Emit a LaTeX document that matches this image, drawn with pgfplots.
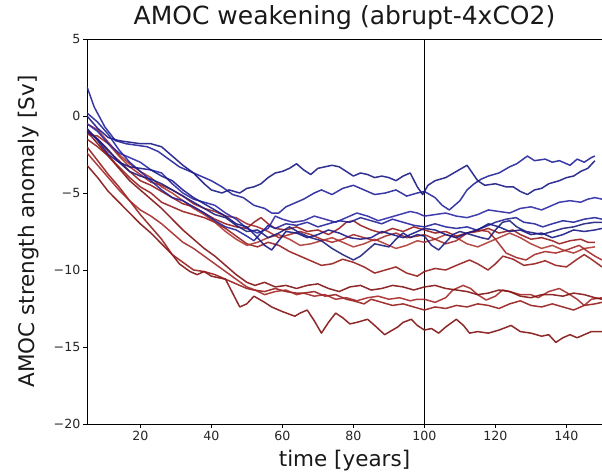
\documentclass[border=0pt]{standalone}
\usepackage{fontspec}
\setmainfont{DejaVu Sans}
\usepackage{pgfplots}
\pgfplotsset{compat=1.18}
\definecolor{bA}{RGB}{35,35,155}
\definecolor{bB}{RGB}{25,25,135}
\definecolor{bC}{RGB}{45,40,165}
\definecolor{bD}{RGB}{30,30,125}
\definecolor{rA}{RGB}{165,40,40}
\definecolor{rB}{RGB}{150,28,28}
\definecolor{rC}{RGB}{130,18,18}
\definecolor{rD}{RGB}{175,55,50}
\begin{document}
\begin{tikzpicture}
\begin{axis}[
  scale only axis, width=515bp, height=385bp,
  xmin=5, xmax=150, ymin=-20, ymax=5,
  xtick={20,40,60,80,100,120,140},
  ytick={-20,-15,-10,-5,0,5},
  yticklabels={−20,−15,−10,−5,0,5},
  tick pos=left, tick align=outside, major tick length=3.5bp,
  tick style={black, line width=0.6pt},
  tick label style={font=\fontsize{12.6bp}{15bp}\selectfont, text=black!85, inner sep=1bp},
  /pgf/number format/assume math mode=true,
  xticklabel shift=2bp, yticklabel shift=2bp,
  axis line style={line width=0.7pt},
  no markers, clip=true,
  every axis plot/.append style={line width=1.5pt, line join=round, opacity=0.9},
]
\addplot[black, line width=0.6pt, opacity=1] coordinates {(100,-20) (100,5)};
% red lines
\addplot[rC] coordinates {(5,-3.2) (8,-4.0) (11,-4.9) (14,-5.6) (17,-6.3) (20,-7.0) (23,-7.6) (26,-8.3) (29,-9.0) (31,-9.6) (34,-10.1) (36,-10.3) (38,-10.1) (40,-10.4) (42,-10.5) (44,-10.6) (46,-11.5) (48,-12.4) (50,-12.2) (52,-11.7) (55,-12.1) (57,-12.4) (60,-12.7) (63.5,-13.0) (65,-12.8) (67,-12.6) (69,-13.3) (71,-14.1) (73,-13.4) (75,-12.8) (77,-13.1) (79,-13.5) (81,-13.4) (84,-13.2) (86,-13.6) (88.8,-14.2) (91,-13.9) (92.5,-13.7) (94,-13.4) (96.3,-13.2) (98,-13.6) (100,-13.9) (102,-13.8) (104,-14.1) (106,-13.7) (109,-13.2) (111,-13.6) (112.7,-14.1) (115,-14.0) (118,-14.1) (121,-13.9) (124.4,-13.6) (127,-14.0) (130,-14.1) (133,-14.3) (135,-14.2) (137,-14.7) (139,-14.4) (141,-14.2) (143,-14.4) (145,-14.2) (147,-14.0) (150,-14.0)};
\addplot[rB] coordinates {(5,-2.0) (8,-2.9) (11,-3.8) (14,-4.6) (17,-5.5) (20,-6.4) (23,-7.2) (26,-8.0) (29,-9.0) (32,-9.5) (35,-10.0) (38,-10.1) (41,-10.3) (44,-10.6) (47,-10.9) (50,-11.2) (52,-11.3) (55,-11.4) (58,-11.2) (61,-11.4) (64,-11.5) (66,-11.5) (69,-11.4) (72,-11.7) (75,-11.6) (78,-11.9) (80,-12.0) (83,-12.2) (85,-11.9) (88,-12.1) (91,-12.3) (94,-12.2) (97,-12.4) (100,-12.6) (103,-12.4) (106,-12.5) (109,-12.3) (112,-12.4) (115,-12.2) (118,-12.3) (121,-12.5) (124,-12.2) (127,-12.0) (130,-12.3) (133,-12.4) (136,-12.2) (139,-12.4) (142,-12.6) (145,-12.3) (148,-12.2) (150,-12.1)};
\addplot[rA] coordinates {(5,-2.4) (8,-3.2) (11,-4.0) (14,-4.8) (17,-5.5) (20,-6.1) (23,-6.5) (26,-7.0) (29,-7.6) (32,-8.2) (35,-8.6) (38,-9.1) (41,-9.6) (44,-10.1) (47,-10.6) (50,-11.1) (52.3,-11.3) (55,-11.6) (58,-11.4) (61,-11.3) (64,-11.6) (66,-11.5) (69,-11.7) (72,-11.6) (75,-11.9) (78,-11.8) (81,-12.0) (84,-11.8) (87,-11.7) (90,-11.9) (93,-11.8) (96,-12.0) (98,-11.9) (100,-11.9) (103,-12.1) (106,-11.8) (108,-11.3) (110.9,-11.0) (113,-11.2) (115,-11.6) (117.4,-11.95) (120,-11.7) (122,-11.3) (124,-11.4) (127,-11.6) (130,-11.6) (132,-11.8) (135,-11.4) (138,-11.2) (141,-11.6) (143,-11.9) (145,-12.3) (147,-11.9) (150,-11.8)};
\addplot[rC] coordinates {(5,-1.0) (8,-1.8) (11,-2.6) (14,-3.4) (17,-4.2) (20,-4.8) (23,-5.4) (26,-6.0) (29,-6.7) (32,-7.4) (35,-8.0) (38,-8.6) (41,-9.1) (44,-9.7) (47,-10.3) (50,-10.8) (52.3,-11.0) (55,-10.8) (58,-11.1) (61,-11.0) (64,-11.2) (67,-11.0) (70,-10.9) (73,-11.2) (76,-11.4) (79,-11.1) (82,-11.0) (85,-11.3) (88,-11.2) (91,-11.0) (94,-11.1) (97,-11.3) (100,-11.1) (103,-11.0) (106,-11.2) (109,-11.3) (112,-11.4) (115,-11.6) (118,-11.5) (121,-11.3) (124,-11.4) (127,-11.7) (130,-11.8) (133,-11.6) (136,-11.6) (139,-11.7) (142,-11.5) (145,-11.6) (148,-11.8) (150,-11.9)};
\addplot[rB] coordinates {(5,-1.5) (8,-2.0) (11,-2.6) (14,-3.3) (17,-4.0) (20,-4.6) (23,-5.0) (26,-5.6) (29,-5.9) (32,-6.2) (35,-6.4) (38,-6.6) (41,-6.9) (44,-7.3) (47,-7.8) (50,-8.3) (53,-8.5) (56,-8.2) (59,-8.4) (62,-8.8) (65,-9.1) (68,-9.4) (71,-9.7) (74,-9.6) (77,-9.3) (80,-9.5) (83,-9.8) (86,-10.2) (89,-10.0) (92,-9.8) (95,-10.2) (98,-10.4) (100,-10.1) (103,-9.9) (106,-10.0) (109,-9.7) (112.7,-9.35) (115,-9.6) (117.9,-10.0) (120,-9.6) (122.1,-9.1) (125,-9.3) (128,-9.7) (131,-9.6) (134,-9.4) (137,-9.7) (140,-9.8) (143,-9.3) (145,-9.0) (147,-9.3) (150,-9.8)};
\addplot[rD] coordinates {(5,-0.5) (8,-0.9) (11,-1.7) (14,-2.5) (17,-3.1) (20,-3.6) (23,-4.0) (26,-4.6) (29,-5.0) (32,-5.5) (35,-6.0) (38,-6.4) (41,-6.9) (44,-7.5) (47,-8.0) (50,-8.4) (53,-8.2) (56,-7.9) (59,-7.7) (62,-8.0) (65,-8.4) (68,-8.3) (71,-8.1) (74,-7.9) (77,-8.2) (80,-8.5) (83,-8.3) (86,-8.0) (89,-8.3) (92,-8.6) (95,-8.4) (98,-8.1) (100,-8.2) (103,-8.0) (106,-7.7) (109,-7.9) (112,-8.3) (115,-8.5) (118,-8.2) (121,-7.9) (124,-7.6) (127,-7.9) (130,-8.3) (133,-8.6) (136,-8.4) (139,-8.7) (142,-8.9) (145,-8.6) (148,-8.5)};
\addplot[rA] coordinates {(5,-1.2) (8,-1.3) (11,-1.8) (14,-2.6) (17,-3.3) (20,-3.8) (23,-4.3) (26,-4.5) (29,-4.8) (32,-5.2) (35,-5.7) (38,-6.0) (41,-6.2) (44,-6.5) (47,-6.6) (50,-7.0) (53,-7.2) (56,-7.5) (59,-7.9) (62,-7.7) (65,-7.5) (68,-7.7) (71,-8.0) (74,-8.2) (77,-8.0) (80,-7.7) (83,-7.9) (86,-8.1) (89,-7.8) (92,-7.6) (95,-7.9) (98,-7.8) (100,-7.7) (103,-8.0) (106,-8.3) (109,-8.1) (112,-7.6) (115,-7.4) (118,-7.5) (120,-8.0) (123,-8.9) (126,-9.2) (128.6,-9.35) (131,-9.0) (134,-8.8) (137,-8.9) (140,-8.7) (143.6,-8.4) (146,-8.8) (148,-9.1) (150,-9.35)};
\addplot[rB] coordinates {(5,-0.9) (8,-1.5) (11,-2.3) (14,-2.9) (17,-3.6) (20,-4.2) (23,-4.5) (26,-4.9) (29,-5.3) (32,-5.7) (35,-5.9) (38,-6.3) (41,-6.7) (44,-7.0) (47,-7.2) (50,-7.3) (52,-6.9) (54,-6.6) (56,-7.0) (58,-7.3) (61,-7.4) (64,-7.2) (67,-7.5) (70,-7.4) (73,-7.7) (76,-7.3) (78,-6.9) (80,-6.8) (82,-7.1) (85,-7.4) (88,-7.6) (91,-7.3) (94,-7.5) (97,-7.2) (100,-7.4) (103,-7.6) (106,-7.5) (109,-7.8) (112,-7.6) (115,-7.5) (118,-7.3) (121,-7.6) (124.9,-7.4) (127,-7.7) (130,-8.0) (133,-7.9) (136,-8.1) (138,-8.3) (141,-8.1) (144,-8.0) (146,-8.2) (148,-8.2)};
% blue lines
\addplot[bA] coordinates {(5,1.9) (7,0.6) (10,-0.7) (13,-1.6) (16,-1.8) (19,-1.9) (22,-2.0) (25,-2.3) (28,-2.8) (31,-3.3) (34,-3.6) (37,-3.9) (40,-4.2) (43,-4.6) (46,-5.1) (49,-5.3) (52,-5.8) (55,-6.0) (57,-6.3) (59,-6.3) (61,-5.9) (63,-5.7) (66,-5.4) (69,-5.0) (71,-4.8) (74,-5.1) (77,-4.7) (80,-4.5) (83,-4.8) (86,-5.1) (89,-5.0) (92,-4.8) (95,-5.2) (98,-5.0) (100,-4.9) (103,-5.3) (105,-5.8) (107,-6.1) (110,-5.5) (112,-4.8) (114,-4.4) (116,-4.1) (118,-3.9) (121,-3.7) (124,-3.3) (126,-3.1) (129,-2.6) (131,-2.9) (134,-2.8) (136,-3.0) (138,-2.9) (141,-3.2) (143,-2.8) (145,-3.0) (147,-2.7) (148,-2.6)};
\addplot[bB] coordinates {(5,0.0) (8,-0.8) (11,-1.4) (14,-1.6) (17,-1.7) (20,-1.8) (23,-1.8) (26,-2.0) (29,-2.6) (32,-3.2) (35,-3.7) (38,-4.4) (40,-4.8) (43,-5.0) (45,-4.8) (48,-5.0) (50,-4.7) (52,-4.6) (54,-4.4) (56,-4.0) (58,-3.7) (60,-3.6) (62,-3.4) (64,-3.1) (66,-3.5) (68,-3.8) (70,-3.4) (72,-3.3) (74,-3.2) (76,-3.3) (78,-3.6) (80,-3.9) (82,-3.7) (84,-3.8) (86,-4.0) (88,-3.9) (90,-4.0) (92,-4.2) (94,-3.9) (96,-3.7) (98,-4.6) (99.5,-5.1) (101,-4.5) (103,-4.2) (106,-4.0) (109,-3.6) (112,-3.2) (115,-4.2) (117,-4.5) (120,-4.4) (123,-4.6) (125,-4.6) (127,-4.9) (129,-5.1) (131,-4.8) (133,-4.7) (135,-4.4) (138,-4.2) (140,-4.0) (142,-3.9) (144,-3.6) (146,-3.4) (148,-2.9)};
\addplot[bC] coordinates {(5,-0.5) (8,-1.0) (11,-1.8) (14,-2.4) (17,-2.7) (20,-3.0) (23,-3.5) (26,-3.7) (29,-4.4) (32,-5.0) (35,-5.4) (38,-5.6) (41,-5.8) (44,-6.3) (47,-6.7) (50,-7.3) (53,-7.6) (56,-7.3) (58,-6.5) (60,-6.7) (63,-6.9) (66,-6.8) (69,-6.5) (72,-6.7) (75,-6.9) (78,-6.6) (81,-6.3) (84,-6.5) (87,-6.8) (90,-6.6) (93,-6.4) (96,-6.2) (98,-6.3) (100,-6.5) (103,-6.4) (106,-6.3) (109,-6.5) (112,-6.6) (115,-6.4) (118,-6.1) (121,-6.2) (124,-6.3) (127,-6.0) (130,-5.9) (133,-6.1) (136,-5.8) (138,-5.6) (141,-5.5) (144,-5.6) (146,-5.4) (148,-5.3) (150,-5.4)};
\addplot[bD] coordinates {(5,-1.0) (8,-1.5) (11,-2.2) (14,-3.0) (17,-3.6) (20,-3.9) (23,-4.1) (26,-4.4) (29,-4.8) (32,-5.2) (35,-5.6) (38,-6.0) (41,-6.4) (44,-6.6) (47,-7.1) (50,-7.5) (53,-7.4) (56,-7.9) (59,-7.6) (62,-7.2) (65,-7.6) (68,-7.9) (71,-8.1) (74,-8.6) (77,-9.0) (80,-9.35) (82,-9.1) (84,-8.7) (86,-8.3) (88,-8.4) (90,-8.5) (92,-8.0) (94,-7.6) (96,-7.9) (98,-7.7) (100,-7.8) (102,-8.4) (104,-8.7) (106,-8.2) (108,-7.7) (110,-7.5) (113,-7.7) (116,-7.9) (118,-8.0) (120,-7.4) (122,-6.9) (124,-6.8) (126,-7.2) (128.6,-7.5) (131,-7.6) (133,-7.7) (136,-7.5) (139,-7.3) (142,-7.2) (145,-7.0) (148,-6.9) (150,-6.9)};
\addplot[bA] coordinates {(5,0.2) (8,-0.4) (11,-1.2) (14,-2.2) (17,-3.0) (20,-3.6) (23,-4.2) (26,-4.8) (29,-5.3) (32,-5.5) (35,-5.9) (38,-6.3) (41,-6.8) (44,-7.2) (47,-7.4) (50,-7.8) (52,-8.1) (54,-7.6) (56,-7.1) (58,-7.3) (61,-7.0) (64,-7.1) (67,-6.9) (70,-7.2) (73,-7.0) (76,-6.8) (79,-6.9) (82,-6.6) (85,-6.8) (88,-7.0) (91,-6.7) (94,-6.9) (97,-7.1) (100,-7.2) (103,-7.0) (106,-7.2) (109,-7.3) (112,-7.2) (114.6,-7.4) (117,-7.2) (120,-6.9) (123,-6.7) (125.8,-6.6) (128,-6.9) (131,-7.0) (133.3,-7.2) (136,-7.0) (139,-6.8) (142,-6.9) (145,-6.7) (148,-6.6) (150,-6.7)};
\addplot[bB] coordinates {(5,-0.8) (8,-1.6) (11,-2.5) (14,-3.0) (17,-3.3) (20,-3.4) (23,-3.5) (26,-3.9) (29,-4.2) (32,-4.8) (35,-5.3) (38,-5.7) (41,-6.1) (44,-6.5) (47,-7.0) (50,-7.2) (53,-7.9) (55,-8.4) (57,-8.7) (59,-8.1) (61,-7.5) (64,-7.6) (67,-7.9) (70,-7.7) (73,-7.4) (76,-7.6) (79,-7.9) (82,-8.0) (85,-7.9) (88,-7.5) (91,-7.7) (94,-7.9) (97,-7.6) (100,-7.3) (103,-7.4) (106,-7.7) (109,-7.9) (112,-7.6) (115,-7.4) (118,-7.0) (121,-7.2) (124,-7.5) (127,-7.4) (130,-7.7) (133,-7.6) (136,-7.9) (139,-7.7) (142,-7.4) (145,-7.5) (148,-7.4) (150,-7.3)};
\end{axis}
\node[anchor=base, font=\fontsize{25bp}{30bp}\selectfont, text=black!90] at ([yshift=14bp]current axis.north) {AMOC weakening (abrupt-4xCO2)};
\node[anchor=base, font=\fontsize{21.5bp}{26bp}\selectfont, text=black!90] at ([yshift=-42bp]current axis.south) {time [years]};
\node[anchor=base, rotate=90, font=\fontsize{21.5bp}{26bp}\selectfont, text=black!90] at ([xshift=-53bp]current axis.west) {AMOC strength anomaly [Sv]};
\pgfresetboundingbox
\path ([shift={(-87bp,-50bp)}]current axis.south west) rectangle ([shift={(0bp,39bp)}]current axis.north east);
\end{tikzpicture}
\end{document}
